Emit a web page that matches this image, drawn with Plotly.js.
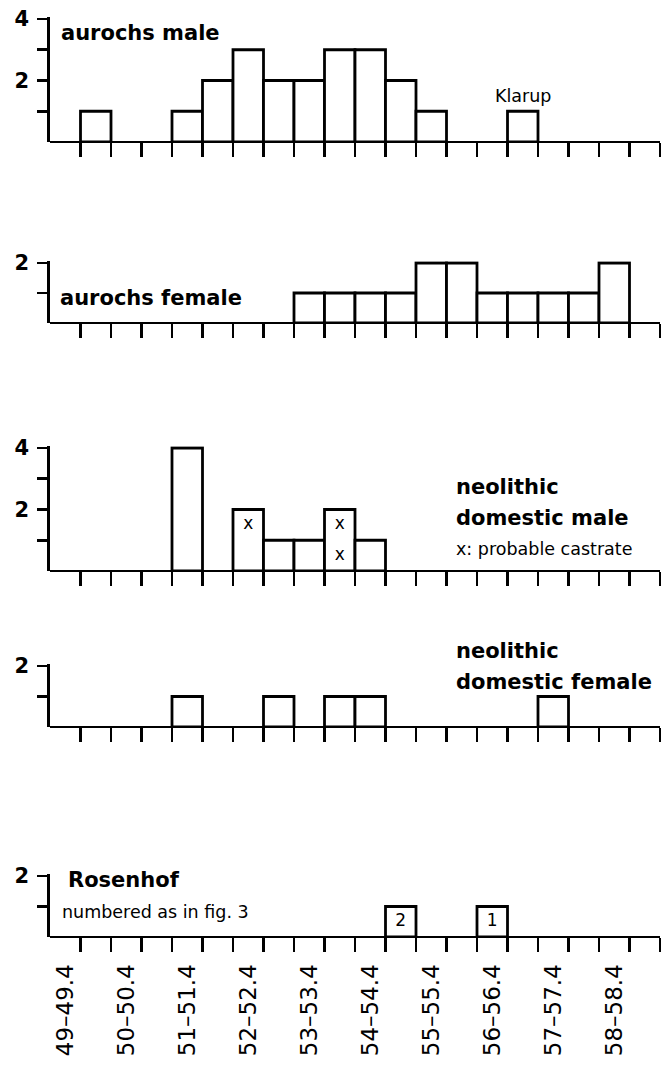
<!DOCTYPE html>
<html>
<head>
<meta charset="utf-8">
<script src="https://cdn.plot.ly/plotly-3.0.1.min.js"></script>
<style>html,body{margin:0;padding:0;background:#fff;}</style>
</head>
<body>
<div id="chart" style="width:669px;height:1065px;"></div>
<script>
// ---------- data ----------
const binLower = [49.0, 49.5, 50.0, 50.5, 51.0, 51.5, 52.0, 52.5, 53.0, 53.5,
                  54.0, 54.5, 55.0, 55.5, 56.0, 56.5, 57.0, 57.5, 58.0, 58.5];
const tickLabelBins = [49.0, 50.0, 51.0, 52.0, 53.0, 54.0, 55.0, 56.0, 57.0, 58.0];
const tickLabels = ["49–49.4", "50–50.4", "51–51.4", "52–52.4", "53–53.4",
                    "54–54.4", "55–55.4", "56–56.4", "57–57.4", "58–58.4"];

const aurochsMale   = [0, 1, 0, 0, 1, 2, 3, 2, 2, 3, 3, 2, 1, 0, 0, 1, 0, 0, 0, 0];
const aurochsFemale = [0, 0, 0, 0, 0, 0, 0, 0, 1, 1, 1, 1, 2, 2, 1, 1, 1, 1, 2, 0];
const neoMale       = [0, 0, 0, 0, 4, 0, 2, 1, 1, 2, 1, 0, 0, 0, 0, 0, 0, 0, 0, 0];
const neoFemale     = [0, 0, 0, 0, 1, 0, 0, 1, 0, 1, 1, 0, 0, 0, 0, 0, 1, 0, 0, 0];
const rosenhof      = [0, 0, 0, 0, 0, 0, 0, 0, 0, 0, 0, 1, 0, 0, 1, 0, 0, 0, 0, 0];

const klarupBin = 56.5;
const klarupLabel = "Klarup";

const castrateBins = [52.0, 53.5, 53.5];
const castrateLevels = [1.5, 1.5, 0.5];
const castrateText = ["x", "x", "x"];

const rosenhofBins = [54.5, 56.0];
const rosenhofLevels = [0.5, 0.5];
const rosenhofText = ["2", "1"];

const panelTitles = [
  ["aurochs male"],
  ["aurochs female"],
  ["neolithic", "domestic male"],
  ["neolithic", "domestic female"],
  ["Rosenhof"]
];
const panelNotes = ["", "", "x: probable castrate", "", "numbered as in fig. 3"];

// ---------- layout helpers ----------
const W = 669, H = 1065, ML = 50, MR = 9;
const plotW = W - ML - MR;
const FONT = "DejaVu Sans";
const LW = 2.8;
const half = 0.25;
const centers = binLower.map(v => v + half);
const boundaries = binLower.slice(1).concat([binLower[binLower.length - 1] + 0.5]);
const px2x = px => (px - ML) / plotW;
const px2y = py => (H - py) / H;

const series = [aurochsMale, aurochsFemale, neoMale, neoFemale, rosenhof];
const panelBase = [142, 323, 571, 727, 937];
const panelUnit = [30.75, 30, 30.75, 30.5, 30.5];
const panelMax = [4, 2, 4, 2, 2];

const data = [];
const layout = {
  width: W, height: H,
  margin: {l: ML, r: MR, t: 0, b: 0, pad: 0},
  paper_bgcolor: "white", plot_bgcolor: "white",
  showlegend: false,
  font: {family: FONT, color: "black"},
  annotations: []
};

series.forEach((vals, i) => {
  const s = i === 0 ? "" : String(i + 1);
  const top = panelMax[i] + 0.06;
  const yb = panelBase[i];
  const yt = yb - top * panelUnit[i];
  data.push({
    type: "bar",
    x: centers,
    y: vals.map(v => v === 0 ? null : v),
    width: 0.5,
    marker: {color: "white", line: {color: "black", width: LW}},
    xaxis: "x" + s, yaxis: "y" + s,
    hoverinfo: "skip"
  });
  const tv = panelMax[i] === 4 ? [1, 2, 3, 4] : [1, 2];
  const tt = panelMax[i] === 4 ? ["", "2", "", "4"] : ["", "2"];
  layout["yaxis" + s] = {
    domain: [px2y(yb), px2y(yt)],
    range: [0, top],
    anchor: "x" + s,
    showline: true, linecolor: "black", linewidth: LW,
    ticks: "outside", ticklen: 10, tickwidth: LW, tickcolor: "black",
    tickmode: "array", tickvals: tv, ticktext: tt,
    tickfont: {family: FONT, size: 21, weight: "bold", color: "black"},
    ticklabelstandoff: 4,
    showgrid: false,
    zeroline: true, zerolinecolor: "black", zerolinewidth: LW,
    fixedrange: true
  };
  const xa = {
    domain: [0, 1],
    range: [49, 59],
    anchor: "y" + s,
    showline: false,
    ticks: "outside", ticklen: 14, tickwidth: LW, tickcolor: "black",
    tickmode: "array", tickvals: boundaries,
    showticklabels: false,
    showgrid: false, zeroline: false, fixedrange: true
  };
  if (i === 4) {
    xa.tickvals = tickLabelBins.map(v => v + half);
    xa.ticktext = tickLabels;
    xa.tickcolor = "rgba(0,0,0,0)";
    xa.showticklabels = true;
    xa.tickangle = -90;
    xa.tickfont = {family: FONT, size: 23, color: "black"};
    xa.ticklabelstandoff = 3;
    xa.minor = {tickmode: "array", tickvals: boundaries, ticks: "outside",
                ticklen: 14, tickwidth: LW, tickcolor: "black", showgrid: false};
  }
  layout["xaxis" + s] = xa;
});

// castrate marks (panel 3)
data.push({
  type: "scatter", mode: "text",
  x: castrateBins.map(v => v + half), y: castrateLevels, text: castrateText,
  textfont: {family: FONT, size: 17, color: "black"},
  xaxis: "x3", yaxis: "y3", hoverinfo: "skip", cliponaxis: false
});
// Rosenhof numbers (panel 5)
data.push({
  type: "scatter", mode: "text",
  x: rosenhofBins.map(v => v + half), y: rosenhofLevels, text: rosenhofText,
  textfont: {family: FONT, size: 17, color: "black"},
  xaxis: "x5", yaxis: "y5", hoverinfo: "skip", cliponaxis: false
});

// Klarup label
layout.annotations.push({
  xref: "x", yref: "y", x: klarupBin + half, y: aurochsMale[binLower.indexOf(klarupBin)],
  text: klarupLabel, showarrow: false, yanchor: "bottom", yshift: 3,
  font: {family: FONT, size: 17.5, color: "black"}
});

// panel titles
const titlePos = [
  [[60, 33]],
  [[59, 298]],
  [[455, 487], [455, 518]],
  [[455, 651], [455, 682]],
  [[67, 880]]
];
const notePos = [null, null, [455, 549], null, [61, 912]];

panelTitles.forEach((lines, i) => {
  lines.forEach((txt, j) => {
    const p = titlePos[i][j];
    layout.annotations.push({
      xref: "paper", yref: "paper", x: px2x(p[0]), y: px2y(p[1]),
      xanchor: "left", yanchor: "middle", showarrow: false,
      text: txt, borderpad: 0,
      font: {family: FONT, size: 21, weight: "bold", color: "black"}
    });
  });
  if (panelNotes[i]) {
    const p = notePos[i];
    layout.annotations.push({
      xref: "paper", yref: "paper", x: px2x(p[0]), y: px2y(p[1]),
      xanchor: "left", yanchor: "middle", showarrow: false,
      text: panelNotes[i], borderpad: 0,
      font: {family: FONT, size: 17.5, color: "black"}
    });
  }
});

Plotly.newPlot("chart", data, layout, {staticPlot: true, displayModeBar: false});
</script>
</body>
</html>
